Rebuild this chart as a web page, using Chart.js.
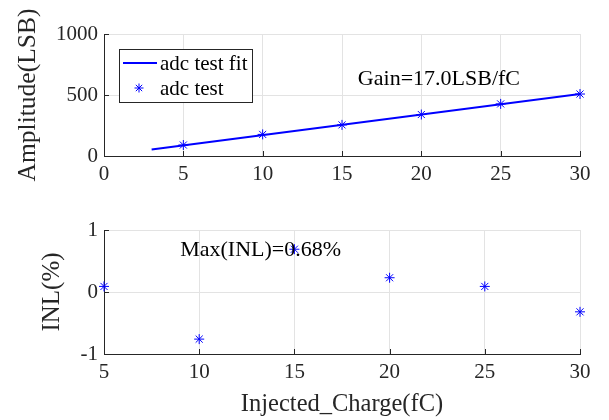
<!DOCTYPE html>
<html>
<head>
<meta charset="utf-8">
<script src="https://cdn.jsdelivr.net/npm/chart.js@4.4.1/dist/chart.umd.min.js"></script>
<style>
    body { margin: 0; background: #fff; }
    #wrap { position: relative; width: 609px; height: 420px; }
    .box { position: absolute; left: 0; width: 609px; }
</style>
</head>
<body>
<div id="wrap">
    <div class="box" style="top:0;height:200px"><canvas id="GainChart"></canvas></div>
    <div class="box" style="top:200px;height:220px"><canvas id="InlChart"></canvas></div>
</div>
<script>
    // data
    var charge = [5, 10, 15, 20, 25, 30];
    var amplitude = [90, 177, 255, 340, 427, 508];
    var fitCharge = [3, 30];
    var fitAmplitude = [54, 508];
    var inl = [0.09, -0.76, 0.69, 0.23, 0.09, -0.32];
    var gainText = 'Gain=17.0LSB/fC';
    var inlText = 'Max(INL)=0.68%';

    var serif = 'Liberation Serif, Times New Roman, serif';
    var blue = '#0000ff';
    var gridCol = '#e3e3e3';
    var axisCol = '#262626';

    Chart.defaults.font.family = serif;
    Chart.defaults.color = axisCol;
    Chart.defaults.animation = false;

    function pts(xs, ys) {
        var out = [];
        for (var i = 0; i < xs.length; i++) out.push({ x: xs[i], y: ys[i] });
        return out;
    }

    function axis(min, max, step, title, titleSize, titlePad, fixed) {
        return {
            type: 'linear', min: min, max: max,
            ticks: {
                stepSize: step, font: { size: 21 }, color: axisCol, padding: 6,
                callback: function (v) { return String(v); }
            },
            grid: { color: gridCol, drawTicks: false },
            border: { color: axisCol, width: 1 },
            title: { display: title != '', text: title, font: { size: titleSize }, color: axisCol, padding: titlePad },
            afterFit: fixed
        };
    }

    // short ticks pointing into the axes, like matlab
    var inTicks = {
        id: 'inTicks',
        afterDatasetsDraw: function (chart) {
            var c = chart.ctx;
            var a = chart.chartArea;
            var xs = chart.scales.x, ys = chart.scales.y;
            c.save();
            c.strokeStyle = axisCol;
            c.lineWidth = 1;
            c.beginPath();
            xs.ticks.forEach(function (t) {
                var px = Math.round(xs.getPixelForValue(t.value)) + 0.5;
                c.moveTo(px, a.bottom);
                c.lineTo(px, a.bottom - 5);
            });
            ys.ticks.forEach(function (t) {
                var py = Math.round(ys.getPixelForValue(t.value)) + 0.5;
                c.moveTo(a.left, py);
                c.lineTo(a.left + 5, py);
            });
            c.stroke();
            c.restore();
        }
    };

    // text labels placed at data coordinates
    var notePlugin = {
        id: 'note',
        afterDraw: function (chart, args, opts) {
            var c = chart.ctx;
            c.save();
            c.font = '22px ' + serif;
            c.fillStyle = '#000';
            c.textBaseline = 'middle';
            c.textAlign = 'left';
            c.fillText(opts.text, chart.scales.x.getPixelForValue(opts.x), chart.scales.y.getPixelForValue(opts.y));
            c.restore();
        }
    };

    // matlab style legend inside the axes
    var boxLegend = {
        id: 'boxLegend',
        afterDraw: function (chart) {
            var c = chart.ctx;
            var ds = chart.data.datasets;
            c.save();
            c.fillStyle = '#fff';
            c.fillRect(119, 49, 133, 53);
            c.strokeStyle = '#262626';
            c.lineWidth = 1;
            c.strokeRect(119.5, 49.5, 133, 53);
            c.font = '21px ' + serif;
            c.fillStyle = '#000';
            c.textBaseline = 'middle';
            c.fillText(ds[0].label, 160, 64);
            c.fillText(ds[1].label, 160, 89);
            c.strokeStyle = blue;
            c.lineWidth = 2;
            c.beginPath();
            c.moveTo(123, 63);
            c.lineTo(157, 63);
            c.stroke();
            c.lineWidth = 1;
            Chart.helpers.drawPoint(c, { pointStyle: 'star', radius: 4.5, borderWidth: 1 }, 139, 88);
            c.restore();
        }
    };

    var ctx = document.getElementById('GainChart').getContext('2d');
    window.GainChart = new Chart(ctx, {
        type: 'scatter',
        data: {
            datasets: [{
                label: 'adc test fit',
                data: pts(fitCharge, fitAmplitude),
                showLine: true,
                borderColor: blue,
                borderWidth: 2,
                pointRadius: 0
            }, {
                label: 'adc test',
                data: pts(charge, amplitude),
                pointStyle: 'star',
                pointRadius: 5,
                borderColor: blue,
                borderWidth: 1,
                clip: false
            }]
        },
        options: {
            responsive: true,
            maintainAspectRatio: false,
            layout: { padding: { top: 34, right: 29, left: 0, bottom: 0 } },
            plugins: {
                legend: { display: false },
                tooltip: { enabled: false },
                note: { text: gainText, x: 16, y: 630 }
            },
            scales: {
                x: axis(0, 30, 5, '', 24, 0, function (s) { s.height = 44; }),
                y: axis(0, 1000, 500, 'Amplitude(LSB)', 25.5, { top: 13, bottom: 0 }, function (s) { s.width = 104; })
            }
        },
        plugins: [inTicks, notePlugin, boxLegend]
    });

    var ctx2 = document.getElementById('InlChart').getContext('2d');
    window.InlChart = new Chart(ctx2, {
        type: 'scatter',
        data: {
            datasets: [{
                label: 'INL',
                data: pts(charge, inl),
                pointStyle: 'star',
                pointRadius: 5,
                borderColor: blue,
                borderWidth: 1,
                clip: false
            }]
        },
        options: {
            responsive: true,
            maintainAspectRatio: false,
            layout: { padding: { top: 30, right: 29, left: 0, bottom: 0 } },
            plugins: {
                legend: { display: false },
                tooltip: { enabled: false },
                note: { text: inlText, x: 9, y: 0.68 }
            },
            scales: {
                x: axis(5, 30, 5, 'Injected_Charge(fC)', 24.5, { top: 0, bottom: 1 }, function (s) { s.height = 66; }),
                y: axis(-1, 1, 1, 'INL(%)', 25, { top: 37, bottom: 0 }, function (s) { s.width = 104; })
            }
        },
        plugins: [inTicks, notePlugin]
    });
</script>
</body>
</html>
